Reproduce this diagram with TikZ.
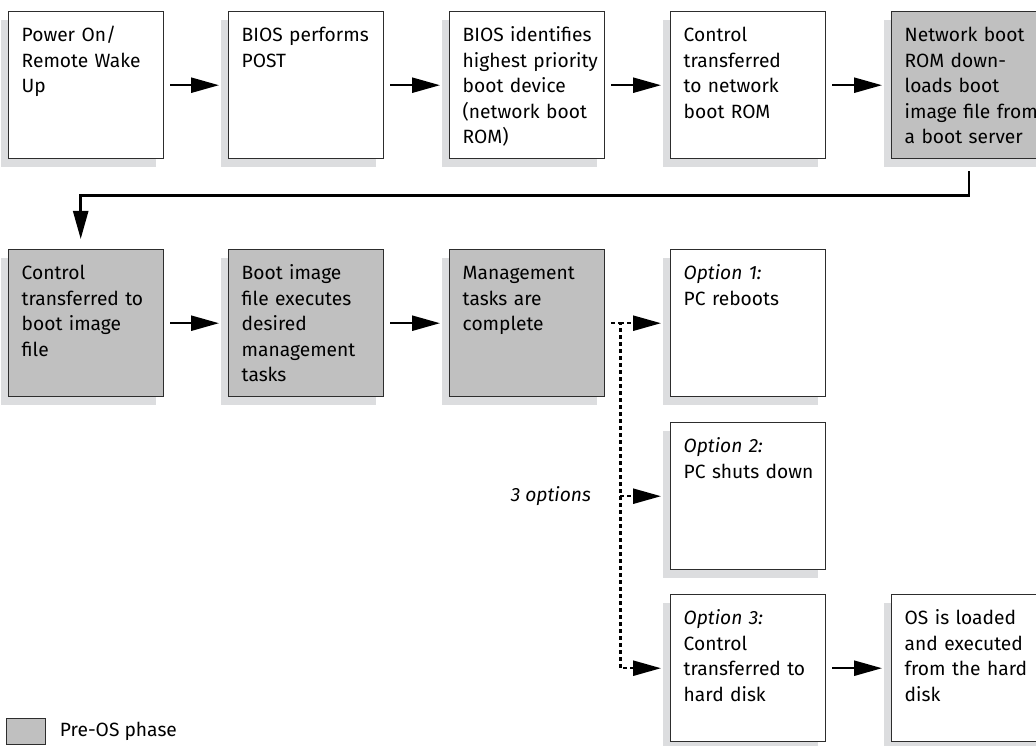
\documentclass[tikz,border=0pt]{standalone}
\usepackage{fontspec}
\setmainfont{Fira Sans}
\usetikzlibrary{arrows.meta,shadows}
\definecolor{preos}{RGB}{192,192,192}
\definecolor{shade}{RGB}{220,221,223}
\definecolor{edge}{RGB}{45,45,45}
\newcommand{\boxfont}{\fontsize{19.2pt}{25.5pt}\selectfont}
\newcommand{\steptext}[1]{\begin{tabular}[t]{@{}l@{}}#1\end{tabular}}
\tikzset{
  stepbox/.style={draw=edge, line width=1.4pt, fill=white, anchor=north west,
    text width=129pt, inner xsep=13pt, inner ysep=0pt, align=left,
    text height=30pt, text depth=117pt,
    drop shadow={shadow xshift=-8pt, shadow yshift=-8pt, fill=shade, opacity=1}},
  preosbox/.style={stepbox, fill=preos},
  flow/.style={-{Triangle[length=28pt,width=15pt]}, line width=2.5pt},
  dashflow/.style={flow, dash pattern=on 4pt off 3pt},
  note/.style={font=\boxfont\itshape}
}
\begin{document}
\begin{tikzpicture}[x=1pt, y=-1pt, font=\boxfont]
  \useasboundingbox (0,0) rectangle (1036,746);
  \clip (0,0) rectangle (1036,746);
  % first row
  \node[stepbox] (power) at (8,11) {\steptext{Power On/\\Remote Wake\\Up}};
  \node[stepbox] (post) at (228,11) {\steptext{BIOS performs\\POST}};
  \node[stepbox] (identify) at (449,11) {\steptext{BIOS identifies\\highest priority\\boot device\\(network boot\\ROM)}};
  \node[stepbox] (handover) at (670,11) {\steptext{Control\\transferred\\to network\\boot ROM}};
  \node[preosbox] (download) at (891,11) {\steptext{Network boot\\ROM down-\\loads boot\\image file from\\a boot server}};
  % second row
  \node[preosbox] (ctrlimg) at (8,249) {\steptext{Control\\transferred to\\boot image\\file}};
  \node[preosbox] (exec) at (228,249) {\steptext{Boot image\\file executes\\desired\\management\\tasks}};
  \node[preosbox] (done) at (449,249) {\steptext{Management\\tasks are\\complete}};
  \node[stepbox] (opt1) at (670,249) {\steptext{\textit{Option 1:}\\PC reboots}};
  % options
  \node[stepbox] (opt2) at (670,422) {\steptext{\textit{Option 2:}\\PC shuts down}};
  \node[stepbox] (opt3) at (670,594) {\steptext{\textit{Option 3:}\\Control\\transferred to\\hard disk}};
  \node[stepbox] (osload) at (891,594) {\steptext{OS is loaded\\and executed\\from the hard\\disk}};
  % connectors
  \draw[flow] ([xshift=6pt]power.east) -- ([xshift=-9pt]post.west);
  \draw[flow] ([xshift=6pt]post.east) -- ([xshift=-9pt]identify.west);
  \draw[flow] ([xshift=6pt]identify.east) -- ([xshift=-9pt]handover.west);
  \draw[flow] ([xshift=6pt]handover.east) -- ([xshift=-9pt]download.west);
  \draw[flow] ([yshift=-12pt]download.south) -- ++(0,24) -| ([xshift=-5.5pt,yshift=10pt]ctrlimg.north);
  \draw[flow] ([xshift=6pt]ctrlimg.east) -- ([xshift=-9pt]exec.west);
  \draw[flow] ([xshift=6pt]exec.east) -- ([xshift=-9pt]done.west);
  \coordinate (split) at ([xshift=15pt]done.east);
  \draw[dashflow] ([xshift=6pt]done.east) -- (split) |- ([xshift=-9pt]opt3.west);
  \draw[dashflow] (split) -- ([xshift=-9pt]opt1.west);
  \draw[dashflow] (split |- opt2.west) -- ([xshift=-9pt]opt2.west);
  \draw[flow] ([xshift=6pt]opt3.east) -- ([xshift=-9pt]osload.west);
  \node[note, anchor=east] (three) at ([xshift=-26pt]split |- opt2.west) {3 options};
  % legend
  \node[draw=edge, line width=1.4pt, fill=preos, anchor=north west, inner sep=0pt,
    minimum width=39pt, minimum height=26pt] (legendbox) at (6,718) {};
  \node[anchor=west] (legendtext) at ([xshift=10pt]legendbox.east) {Pre-OS phase};
\end{tikzpicture}
\end{document}
